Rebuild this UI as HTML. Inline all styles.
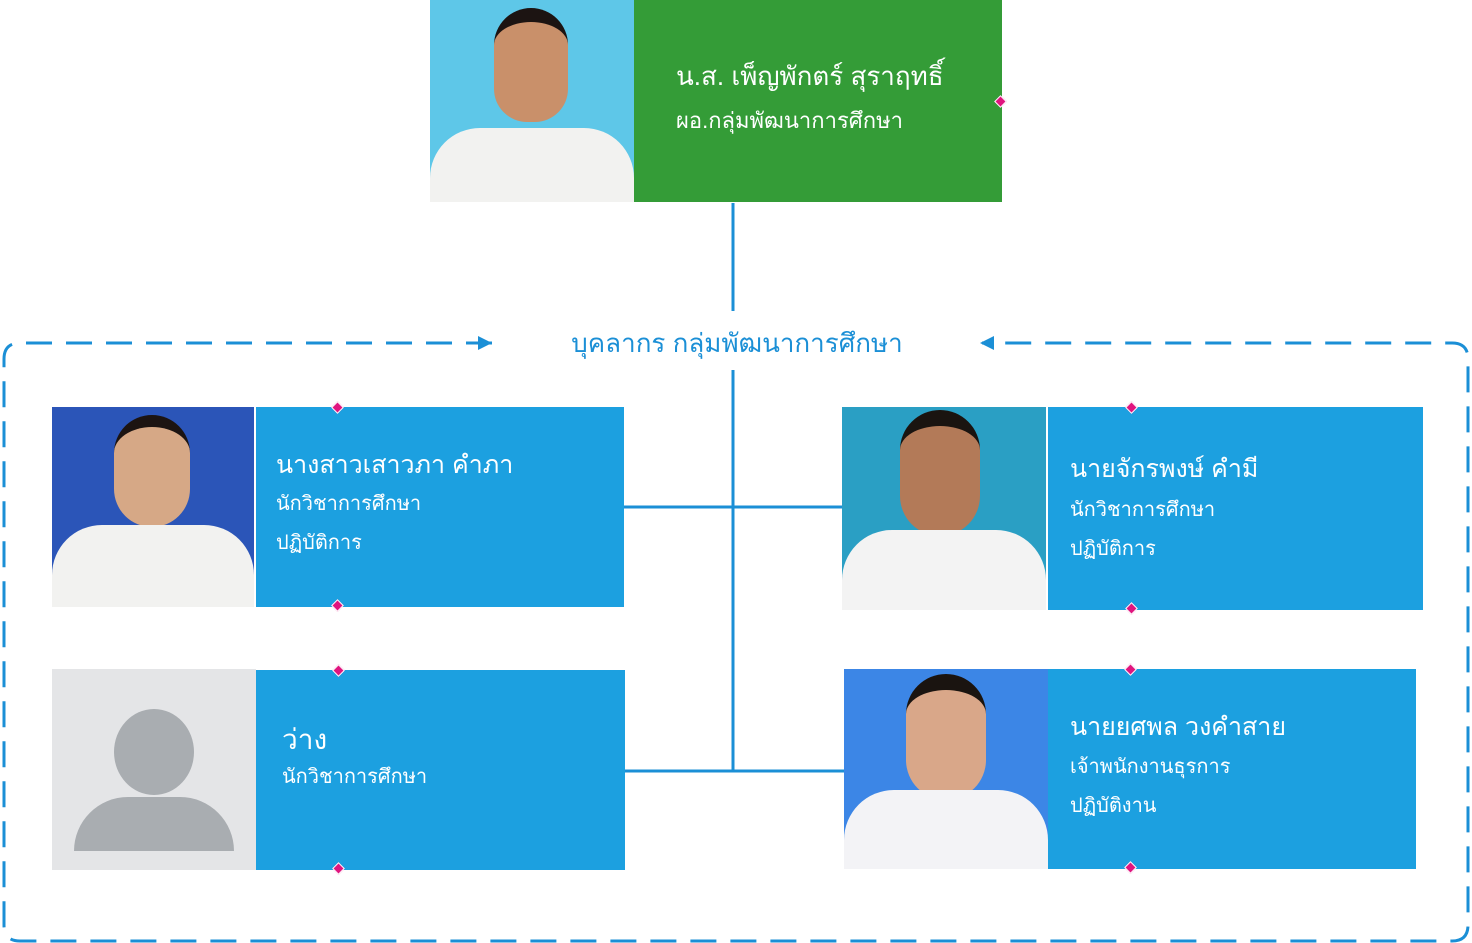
<!DOCTYPE html>
<html><head><meta charset="utf-8"><style>
body{margin:0;width:1472px;height:943px;background:#fff;position:relative;overflow:hidden;font-family:"Liberation Sans","DejaVu Sans","Noto Sans CJK SC",sans-serif}
.a{position:absolute}
.blue{background:#1ca0e0;color:#fff}
.t1{font-size:25px;line-height:32px}
.t2{font-size:20px;line-height:38px}
.dm{position:absolute;width:7px;height:7px;background:#e0157f;transform:rotate(45deg);border:1px solid #fff}
</style></head><body>
<svg class="a" style="left:0;top:0" width="1472" height="943">
<path d="M492 343 H20 Q4 343 4 359 V925 Q4 941 20 941 H1452 Q1468 941 1468 925 V359 Q1468 343 1452 343 H982" fill="none" stroke="#1b8fd6" stroke-width="3" stroke-dasharray="26 14"/>
<polygon points="492,343 478,336 478,350" fill="#1b8fd6"/>
<polygon points="980,343 994,336 994,350" fill="#1b8fd6"/>
<g stroke="#1b8fd6" stroke-width="3">
<line x1="733" y1="203" x2="733" y2="311"/>
<line x1="733" y1="370" x2="733" y2="772"/>
<line x1="624" y1="507" x2="842" y2="507"/>
<line x1="625" y1="771" x2="844" y2="771"/>
</g>
</svg>
<div class="a" style="left:560px;top:325px;width:354px;text-align:center;color:#1b8fd6;font-size:26px;line-height:36px">บุคลากร กลุ่มพัฒนาการศึกษา</div>

<div class="a" style="left:430px;top:0;width:204px;height:202px;background:#5ec7e8"></div>
<div class="a" style="left:494px;top:8px;width:74px;height:100px;border-radius:38px 38px 34px 34px;background:#c9906a;border-top:14px solid #1c1412"></div>
<div class="a" style="left:430px;top:128px;width:204px;height:74px;background:#f2f2f0;border-radius:50px 50px 0 0"></div>
<div class="a" style="left:634px;top:0;width:368px;height:202px;background:#349c37;color:#fff">
<div class="a" style="left:42px;top:58px;font-size:26px;line-height:36px">น.ส. เพ็ญพักตร์ สุราฤทธิ์</div>
<div class="a" style="left:42px;top:105px;font-size:22px;line-height:32px">ผอ.กลุ่มพัฒนาการศึกษา</div>
</div>
<div class="dm" style="left:996px;top:97px"></div>

<div class="a" style="left:52px;top:407px;width:202px;height:200px;background:#2b55b8"></div>
<div class="a" style="left:114px;top:415px;width:76px;height:100px;border-radius:38px;background:#d6a886;border-top:12px solid #1c1412"></div>
<div class="a" style="left:52px;top:525px;width:202px;height:82px;background:#f2f2f0;border-radius:50px 50px 0 0"></div>
<div class="a blue" style="left:256px;top:407px;width:368px;height:200px">
<div class="a t1" style="left:20px;top:42px">นางสาวเสาวภา คำภา</div>
<div class="a t2" style="left:20px;top:78px">นักวิชาการศึกษา</div>
<div class="a t2" style="left:20px;top:117px">ปฏิบัติการ</div>
</div>
<div class="dm" style="left:333px;top:403px"></div><div class="dm" style="left:333px;top:601px"></div>

<div class="a" style="left:842px;top:407px;width:204px;height:203px;background:#2a9fc4"></div>
<div class="a" style="left:900px;top:410px;width:80px;height:110px;border-radius:40px;background:#b37a58;border-top:16px solid #1a1410"></div>
<div class="a" style="left:842px;top:530px;width:204px;height:80px;background:#f3f3f3;border-radius:50px 50px 0 0"></div>
<div class="a blue" style="left:1048px;top:407px;width:375px;height:203px">
<div class="a t1" style="left:22px;top:46px">นายจักรพงษ์ คำมี</div>
<div class="a t2" style="left:22px;top:84px">นักวิชาการศึกษา</div>
<div class="a t2" style="left:22px;top:123px">ปฏิบัติการ</div>
</div>
<div class="dm" style="left:1127px;top:403px"></div><div class="dm" style="left:1127px;top:604px"></div>

<div class="a" style="left:52px;top:669px;width:204px;height:201px;background:#e4e5e7;overflow:hidden">
<div class="a" style="left:62px;top:40px;width:80px;height:86px;border-radius:50%;background:#a9adb1"></div>
<div class="a" style="left:22px;top:128px;width:160px;height:54px;border-radius:80px 80px 0 0;background:#a9adb1"></div>
</div>
<div class="a blue" style="left:256px;top:670px;width:369px;height:200px">
<div class="a" style="left:26px;top:52px;font-size:28px;line-height:36px">ว่าง</div>
<div class="a t2" style="left:26px;top:88px">นักวิชาการศึกษา</div>
</div>
<div class="dm" style="left:334px;top:666px"></div><div class="dm" style="left:334px;top:864px"></div>

<div class="a" style="left:844px;top:669px;width:204px;height:200px;background:#3c86e6"></div>
<div class="a" style="left:906px;top:674px;width:80px;height:110px;border-radius:40px;background:#d9a789;border-top:16px solid #1a1410"></div>
<div class="a" style="left:844px;top:790px;width:204px;height:79px;background:#f3f3f6;border-radius:50px 50px 0 0"></div>
<div class="a blue" style="left:1048px;top:669px;width:368px;height:200px">
<div class="a t1" style="left:22px;top:42px">นายยศพล วงคำสาย</div>
<div class="a t2" style="left:22px;top:79px">เจ้าพนักงานธุรการ</div>
<div class="a t2" style="left:22px;top:118px">ปฏิบัติงาน</div>
</div>
<div class="dm" style="left:1126px;top:665px"></div><div class="dm" style="left:1126px;top:863px"></div>
</body></html>
